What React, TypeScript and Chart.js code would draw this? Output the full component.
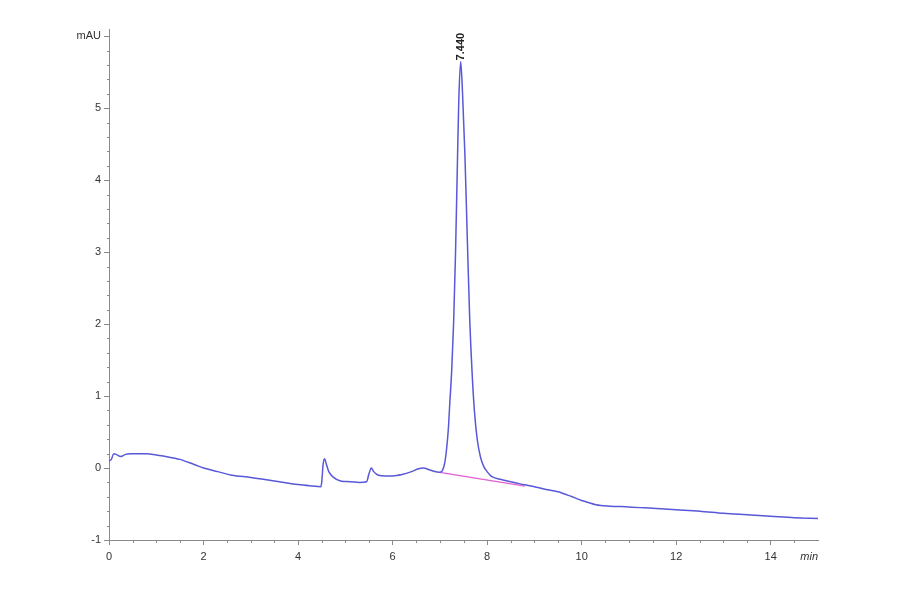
import React, { useEffect, useRef } from 'react';
import Chart, { ChartConfiguration } from 'chart.js/auto';

// retention time (min) and absorbance (mAU)
const times: number[] = [
  0.0, 0.05, 0.1, 0.15, 0.25, 0.35, 0.45, 0.6, 0.8, 1.0, 1.2, 1.5, 1.8, 2.0, 2.3, 2.6, 3.0, 3.5,
  4.0, 4.3, 4.48, 4.5, 4.53, 4.56, 4.6, 4.65, 4.75, 4.9, 5.1, 5.3, 5.45, 5.5, 5.55, 5.6, 5.7,
  5.85, 6.0, 6.2, 6.4, 6.55, 6.65, 6.8, 7.0, 7.05, 7.1, 7.14, 7.18, 7.21, 7.25, 7.29, 7.33,
  7.37, 7.4, 7.44, 7.48, 7.53, 7.58, 7.63, 7.68, 7.73, 7.79, 7.86, 7.93, 8.0, 8.05, 8.1, 8.3,
  8.5, 8.7, 8.85, 9.0, 9.2, 9.5, 9.8, 10.0, 10.3, 10.6, 11.0, 11.5, 12.0, 12.5, 13.0, 13.5,
  14.0, 14.5, 15.0,
];
const signal: number[] = [
  0.1, 0.12, 0.2, 0.19, 0.16, 0.19, 0.2, 0.2, 0.2, 0.18, 0.16, 0.12, 0.05, 0.0, -0.05, -0.1,
  -0.13, -0.18, -0.23, -0.25, -0.26, -0.2, 0.05, 0.13, 0.05, -0.05, -0.13, -0.18, -0.19, -0.2,
  -0.19, -0.08, 0.0, -0.05, -0.1, -0.11, -0.11, -0.09, -0.05, -0.01, 0.0, -0.03, -0.06, -0.04,
  0.06, 0.25, 0.55, 0.9, 1.35, 2.0, 2.95, 4.2, 5.1, 5.65, 5.2, 4.35, 3.2, 2.1, 1.35, 0.8,
  0.4, 0.15, 0.02, -0.05, -0.09, -0.12, -0.16, -0.19, -0.22, -0.24, -0.26, -0.29, -0.33, -0.4,
  -0.45, -0.51, -0.53, -0.54, -0.56, -0.58, -0.6, -0.63, -0.65, -0.67, -0.69, -0.7,
];

// integration baseline under the main peak
const baseTimes: number[] = [7.0, 8.8];
const baseValues: number[] = [-0.06, -0.25];

const peakTime = 7.44;
const peakHeight = 5.65;
const peakLabel = '7.440';

const xTicks: number[] = [0, 2, 4, 6, 8, 10, 12, 14];
const yTicks: number[] = [-1, 0, 1, 2, 3, 4, 5, 6];

const AXIS = '#8a8a8a';
const FONT = 'Liberation Sans, Arial, sans-serif';

const decorations = {
  id: 'decorations',
  afterDraw(chart: Chart) {
    const { ctx } = chart;
    const xs = chart.scales.x;
    const ys = chart.scales.y;
    ctx.save();
    ctx.strokeStyle = AXIS;
    ctx.lineWidth = 1;
    // minor ticks on y
    for (let v = -1; v <= 6.05; v += 0.2) {
      if (Math.abs(v - Math.round(v)) < 0.01) continue;
      const py = Math.round(ys.getPixelForValue(v)) + 0.5;
      ctx.beginPath();
      ctx.moveTo(xs.left - 2, py);
      ctx.lineTo(xs.left + 1, py);
      ctx.stroke();
    }
    // minor ticks on x
    for (let v = 0.5; v < 15; v += 0.5) {
      if (Math.abs(v / 2 - Math.round(v / 2)) < 0.01) continue;
      const px = Math.round(xs.getPixelForValue(v)) + 0.5;
      ctx.beginPath();
      ctx.moveTo(px, ys.bottom);
      ctx.lineTo(px, ys.bottom + 3);
      ctx.stroke();
    }
    // axis unit at the end of x
    ctx.fillStyle = '#333';
    ctx.font = `italic 11px ${FONT}`;
    ctx.textAlign = 'right';
    ctx.textBaseline = 'middle';
    ctx.fillText('min', xs.right, 557);
    // peak retention time label
    const px = xs.getPixelForValue(peakTime);
    const py = ys.getPixelForValue(peakHeight);
    ctx.translate(px, py - 1);
    ctx.rotate(-Math.PI / 2);
    ctx.font = `bold 11px ${FONT}`;
    ctx.fillStyle = '#222';
    ctx.textAlign = 'left';
    ctx.fillText(peakLabel, 0, 0);
    ctx.restore();
  },
};

const App: React.FC = () => {
  const canvasRef = useRef<HTMLCanvasElement>(null);
  const chartRef = useRef<Chart>();

  useEffect(() => {
    if (!canvasRef.current) return;
    const config: ChartConfiguration = {
      type: 'line',
      data: {
        datasets: [
          {
            data: times.map((t, i) => ({ x: t, y: signal[i] })),
            borderColor: '#5858d8',
            borderWidth: 1.5,
            pointRadius: 0,
            cubicInterpolationMode: 'monotone',
          },
          {
            data: baseTimes.map((t, i) => ({ x: t, y: baseValues[i] })),
            borderColor: '#e060d0',
            borderWidth: 1.3,
            pointRadius: 0,
          },
        ],
      },
      options: {
        responsive: false,
        animation: false,
        layout: { padding: { top: 29, right: 82, left: 0, bottom: 0 } },
        plugins: { legend: { display: false }, tooltip: { enabled: false } },
        scales: {
          x: {
            type: 'linear',
            min: 0,
            max: 15,
            afterFit: (s: any) => { s.height = 54; },
            afterBuildTicks: (s: any) => { s.ticks = xTicks.map((v) => ({ value: v })); },
            grid: { drawOnChartArea: false, tickLength: 5, color: AXIS },
            border: { color: AXIS },
            ticks: { color: '#333', padding: 5, font: { family: FONT, size: 11 }, maxRotation: 0 },
          },
          y: {
            type: 'linear',
            min: -1,
            max: 6.1,
            afterFit: (s: any) => { s.width = 109; },
            afterBuildTicks: (s: any) => { s.ticks = yTicks.map((v) => ({ value: v })); },
            grid: { drawOnChartArea: false, tickLength: 5, color: AXIS },
            border: { color: AXIS },
            ticks: {
              color: '#333',
              padding: 3,
              font: { family: FONT, size: 11 },
              callback: (v: any) => (v === 6 ? 'mAU' : String(v)),
            },
          },
        },
      },
      plugins: [decorations],
    };
    chartRef.current = new Chart(canvasRef.current, config);
    return () => {
      if (chartRef.current) chartRef.current.destroy();
    };
  }, []);

  return (
    <div style={{ position: 'absolute', left: 0, top: 0, width: 900, height: 594, background: '#fff' }}>
      <canvas ref={canvasRef} width={900} height={594} />
    </div>
  );
};

export default App;
